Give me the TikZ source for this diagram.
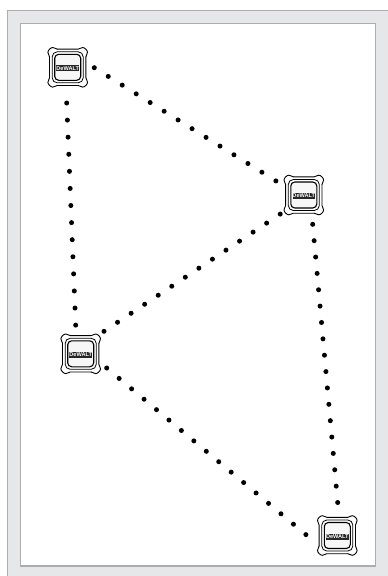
\documentclass[tikz,border=0pt]{standalone}
\usepackage{fontspec}
\setsansfont{Liberation Sans}
\usepackage{tikz}
\definecolor{panelgrey}{HTML}{E6E7E8}
\definecolor{edgegrey}{HTML}{ABADB0}
\tikzset{
  panel/.style={draw=edgegrey, line width=1pt, fill=panelgrey},
  sheet/.style={draw=edgegrey, line width=1.6pt, fill=white},
  badge/.style={fill=black!85, text=white, inner sep=0pt, minimum width=21.5pt, minimum height=6pt,
    font=\sffamily\bfseries\fontsize{5.6}{5.6}\selectfont},
  hub/.style={circle, minimum size=40pt, inner sep=0pt},
  dots/.style={line width=5pt, line cap=round, dash pattern=on 0pt off #1pt},
  pics/dewalt/.style={code={
    \foreach \a in {0,90,180,270}
      \draw[rotate=\a, line width=0.9pt, line cap=round] (-10.5,-18.2) -- (10.5,-18.2) .. controls (12,-18.2) and (13,-19.8) .. (15,-19.8)
        .. controls (17,-19.8) and (19.8,-17) .. (19.8,-15) .. controls (19.8,-13) and (18.2,-12) .. (18.2,-10.5);
    \draw[line width=0.8pt, rounded corners=5pt] (-15.5,-15.5) rectangle (15.5,15.5);
    \draw[line width=1.1pt, rounded corners=4pt, fill=black!3] (-13,-13) rectangle (13,13);
    \node[badge] at (0,1) {DeWALT};
  }}
}
\begin{document}
\begin{tikzpicture}[x=1pt, y=-1pt]
  \useasboundingbox (0,0) rectangle (388,576);
  \path[panel] (7,10) rectangle (392,580);
  \path[sheet] (20.5,23.5) rectangle (375.5,566);
  % the four units
  \node (top) [hub] at (67.7,67.3) {};
  \node (mid) [hub] at (303.8,195) {};
  \node (low) [hub] at (80.7,353.8) {};
  \node (end) [hub] at (337.3,535.5) {};
  \pic at (top) {dewalt};
  \pic at (mid) {dewalt};
  \pic at (low) {dewalt};
  \pic at (end) {dewalt};
  % links
  \draw[dots=16.46] ([shift={(26.6,0.4)}]top.center) -- ([shift={(-27.8,-14)}]mid.center);
  \draw[dots=17.1] ([shift={(-1,35.7)}]top.center) -- ([shift={(-5,-28.5)}]low.center);
  \draw[dots=16.28] ([shift={(23.3,-22.5)}]low.center) -- ([shift={(-23.5,19)}]mid.center);
  \draw[dots=16.23] ([shift={(26,14.2)}]low.center) -- ([shift={(-31.3,-0.8)}]end.center);
  \draw[dots=16.43] ([shift={(8.9,29.3)}]mid.center) -- ([shift={(0.4,-32.8)}]end.center);
\end{tikzpicture}
\end{document}
